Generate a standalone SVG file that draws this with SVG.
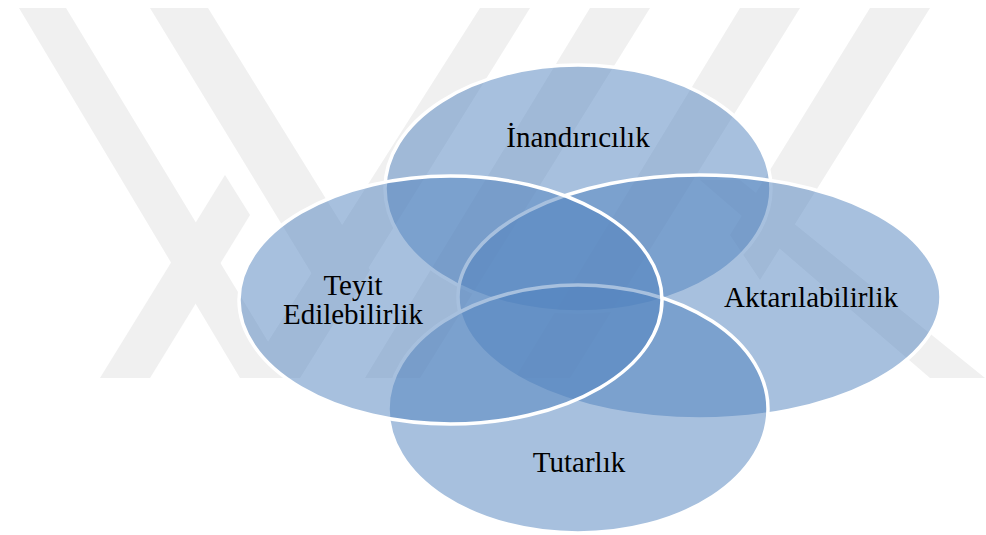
<svg xmlns="http://www.w3.org/2000/svg" width="986" height="535" viewBox="0 0 986 535">
<style>
.wm{fill:#f0f0f0}
.ell{fill:#4F81BD;fill-opacity:0.5;stroke:#ffffff;stroke-width:3.5}
.lbl{font-family:"Liberation Serif","Times New Roman",serif;font-size:29px;fill:#000000;text-anchor:middle}
</style>
<rect width="986" height="535" fill="#ffffff"/>
<g id="watermark">
<polygon class="wm" points="19,8 66,8 290,378 240,378"/>
<polygon class="wm" points="150,8 208,8 370,270 340,320"/>
<polygon class="wm" points="480,8 530,8 300,378 245,378"/>
<polygon class="wm" points="100,378 150,378 250,215 225,175"/>
<polygon class="wm" points="590,8 650,8 420,378 365,378"/>
<polygon class="wm" points="740,8 800,8 570,378 515,378"/>
<polygon class="wm" points="870,8 930,8 760,280 730,235"/>
<polygon class="wm" points="700,180 740,180 985,378 930,378"/>
</g>
<g id="node-inandiricilik">
<ellipse class="ell" cx="578" cy="188.5" rx="193" ry="123.5"/>
</g>
<g id="node-aktarilabilirlik">
<ellipse class="ell" cx="699.5" cy="297" rx="241.5" ry="122"/>
</g>
<g id="node-tutarlik">
<ellipse class="ell" cx="578" cy="409" rx="190" ry="124"/>
</g>
<g id="node-teyit">
<ellipse class="ell" cx="450.5" cy="300" rx="211.5" ry="124"/>
</g>
<g id="labels">
<text class="lbl" x="578" y="147">İnandırıcılık</text>
<text class="lbl" x="811" y="307">Aktarılabilirlik</text>
<text class="lbl" x="579" y="472">Tutarlık</text>
<text class="lbl" x="353" y="295">Teyit</text>
<text class="lbl" x="353" y="324">Edilebilirlik</text>
</g>
<g id="connectors"/>
</svg>
